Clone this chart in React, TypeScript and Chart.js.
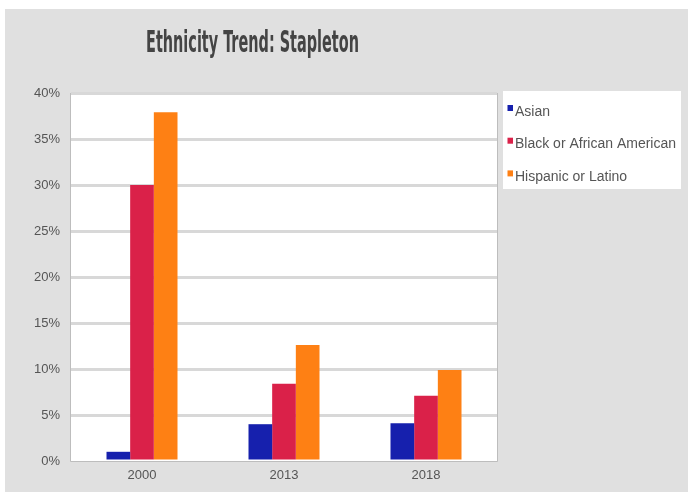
import React, { useEffect, useRef } from "react";
import { Chart, registerables } from "chart.js";

Chart.register(...registerables);

const TITLE = "Ethnicity Trend: Stapleton";
const categories = ["2000", "2013", "2018"];
const seriesNames = ["Asian", "Black or African American", "Hispanic or Latino"];
const asian = [1.0, 4.0, 4.1];
const blackOrAfricanAmerican = [30.0, 8.4, 7.1];
const hispanicOrLatino = [37.9, 12.6, 9.9];
const seriesColors = ["#1620ad", "#da2149", "#fe8014"];
const yTicksMax = 40;
const yTicksStep = 5;

const W = 683;
const H = 483;
const TEXT = "#555555";
const FONT = "'Liberation Sans', Arial, sans-serif";

// White plot background, thin frame, title and a boxed legend on the right.
const decorations = {
  id: "decorations",
  beforeDraw(chart: any) {
    const { ctx, chartArea: a } = chart;
    ctx.save();
    ctx.fillStyle = "#ffffff";
    ctx.fillRect(a.left, a.top, a.right - a.left, a.bottom - a.top);

    // title, drawn in a condensed bold face
    ctx.font = "bold 30px 'DejaVu Sans Condensed', 'DejaVu Sans', sans-serif";
    ctx.fillStyle = "#444444";
    ctx.textBaseline = "alphabetic";
    ctx.textAlign = "center";
    const tw = ctx.measureText(TITLE).width;
    const targetW = 213;
    ctx.translate(247.5, 43);
    ctx.scale(targetW / tw, 1);
    ctx.fillText(TITLE, 0, 0);
    ctx.restore();

    // legend box
    ctx.save();
    const lx = 498, ly = 82, lw = 178, lh = 98;
    ctx.fillStyle = "#ffffff";
    ctx.fillRect(lx, ly, lw, lh);
    ctx.font = `14px ${FONT}`;
    ctx.textAlign = "left";
    ctx.textBaseline = "alphabetic";
    chart.data.datasets.forEach((ds: any, i: number) => {
      const baseY = 106.5 + i * 32.7;
      ctx.fillStyle = ds.backgroundColor;
      ctx.fillRect(502.5, baseY - 10.5, 5.5, 6);
      ctx.fillStyle = TEXT;
      ctx.fillText(ds.label, 510, baseY);
    });
    ctx.restore();
  },
  afterDraw(chart: any) {
    const { ctx, chartArea: a } = chart;
    ctx.save();
    ctx.strokeStyle = "#bdbdbd";
    ctx.lineWidth = 1;
    ctx.beginPath();
    ctx.moveTo(a.left - 0.5, a.top);
    ctx.lineTo(a.left - 0.5, a.bottom + 0.5);
    ctx.lineTo(a.right + 0.5, a.bottom + 0.5);
    ctx.lineTo(a.right + 0.5, a.top);
    ctx.stroke();
    ctx.restore();
  },
};

export default function App() {
  const ref = useRef<HTMLCanvasElement>(null);

  useEffect(() => {
    if (!ref.current) return;
    const values = [asian, blackOrAfricanAmerican, hispanicOrLatino];
    const chart = new Chart(ref.current, {
      type: "bar",
      data: {
        labels: categories,
        datasets: seriesNames.map((name, i) => ({
          label: name,
          data: values[i],
          backgroundColor: seriesColors[i],
          borderWidth: 0,
          categoryPercentage: 0.5,
          barPercentage: 1.0,
        })),
      },
      options: {
        responsive: false,
        animation: false,
        devicePixelRatio: 1,
        layout: { padding: { top: 84, right: 191, left: 0, bottom: 0 } },
        plugins: {
          legend: { display: false },
          title: { display: false },
          tooltip: { enabled: false },
        },
        scales: {
          x: {
            grid: { display: false, drawTicks: false },
            border: { display: false },
            ticks: {
              color: TEXT,
              font: { family: FONT, size: 13 },
              padding: 7,
            },
            afterFit(scale: any) {
              scale.height = 31;
            },
          },
          y: {
            min: 0,
            max: yTicksMax,
            grid: {
              drawTicks: false,
              lineWidth: 3,
              color: (c: any) => (c.tick && c.tick.value === 0 ? "rgba(0,0,0,0)" : "#d8d8d8"),
            },
            border: { display: false },
            ticks: {
              stepSize: yTicksStep,
              color: TEXT,
              font: { family: FONT, size: 13 },
              padding: 11,
              callback: (v: any) => `${v}%`,
            },
            afterFit(scale: any) {
              scale.width = 66;
            },
          },
        },
      },
      plugins: [decorations],
    });
    return () => chart.destroy();
  }, []);

  return (
    <div
      style={{
        position: "absolute",
        left: 5,
        top: 9,
        width: W,
        height: H,
        background: "#e0e0e0",
      }}
    >
      <canvas ref={ref} width={W} height={H} style={{ display: "block" }} />
    </div>
  );
}
